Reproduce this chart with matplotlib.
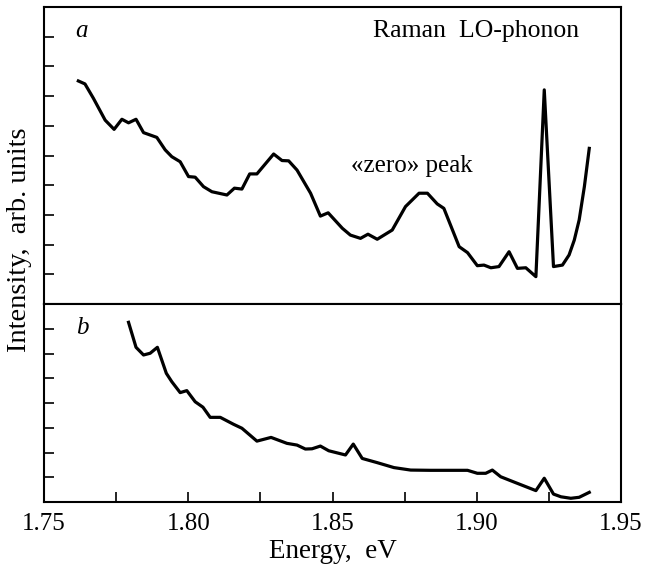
import matplotlib
matplotlib.use('Agg')
import matplotlib.pyplot as plt
from matplotlib.ticker import MultipleLocator, FormatStrFormatter

# panel a: Raman / zero peak spectrum
energy_a = [1.7619, 1.7642, 1.7671, 1.7712, 1.7743, 1.7770, 1.7793, 1.7819,
            1.7845, 1.7891, 1.7920, 1.7943, 1.7972, 1.8001, 1.8024, 1.8053,
            1.8082, 1.8134, 1.8160, 1.8186, 1.8213, 1.8238, 1.8296, 1.8325,
            1.8348, 1.8377, 1.8424, 1.8458, 1.8485, 1.8534, 1.8562, 1.8597,
            1.8623, 1.8655, 1.8707, 1.8753, 1.8800, 1.8829, 1.8863, 1.8886,
            1.8939, 1.8968, 1.9002, 1.9025, 1.9049, 1.9077, 1.9112, 1.9141,
            1.9170, 1.9205, 1.9234, 1.9266, 1.9297, 1.9320, 1.9338, 1.9355,
            1.9373, 1.9390]
intensity_a = [7.51, 7.41, 6.93, 6.19, 5.88, 6.22, 6.10, 6.22,
               5.77, 5.61, 5.19, 4.96, 4.79, 4.29, 4.27, 3.95,
               3.78, 3.67, 3.90, 3.87, 4.38, 4.38, 5.05, 4.83,
               4.82, 4.51, 3.73, 2.96, 3.07, 2.55, 2.32, 2.21,
               2.35, 2.18, 2.49, 3.28, 3.73, 3.73, 3.37, 3.22,
               1.93, 1.73, 1.29, 1.31, 1.22, 1.26, 1.76, 1.20,
               1.22, 0.92, 7.21, 1.26, 1.31, 1.65, 2.15, 2.83,
               3.95, 5.24]

# panel b
energy_b = [1.7793, 1.7819, 1.7845, 1.7868, 1.7893, 1.7924, 1.7943, 1.7972,
            1.7995, 1.8024, 1.8051, 1.8076, 1.8111, 1.8157, 1.8186, 1.8238,
            1.8287, 1.8342, 1.8377, 1.8406, 1.8429, 1.8458, 1.8487, 1.8545,
            1.8572, 1.8603, 1.8655, 1.8713, 1.8771, 1.8840, 1.8968, 1.9002,
            1.9031, 1.9054, 1.9083, 1.9135, 1.9205, 1.9234, 1.9266, 1.9292,
            1.9326, 1.9355, 1.9390]
intensity_b = [7.26, 6.25, 5.94, 6.01, 6.25, 5.20, 4.86, 4.42,
               4.50, 4.05, 3.83, 3.42, 3.42, 3.14, 2.98, 2.46,
               2.61, 2.37, 2.30, 2.14, 2.15, 2.26, 2.07, 1.90,
               2.34, 1.76, 1.59, 1.39, 1.29, 1.28, 1.28, 1.16,
               1.16, 1.29, 1.02, 0.78, 0.46, 0.96, 0.32, 0.21,
               0.15, 0.19, 0.39]

plt.rcParams['font.family'] = 'Liberation Serif'

fig = plt.figure(figsize=(6.45, 5.73), dpi=100)
W, H = 645.0, 573.0
left, right = 44, 621
ax_a = fig.add_axes([left / W, 1 - 304 / H, (right - left) / W, 297 / H])
ax_b = fig.add_axes([left / W, 1 - 502 / H, (right - left) / W, 198 / H])

for ax in (ax_a, ax_b):
    ax.set_xlim(1.75, 1.95)
    for s in ax.spines.values():
        s.set_linewidth(1.5)
    ax.tick_params(direction='in', length=7, width=1.2, which='both',
                   labelsize=18, right=False, top=False)

ax_a.plot(energy_a, intensity_a, color='black', lw=2.3)
ax_a.set_ylim(0, 10)
ax_a.set_yticks(range(1, 10))
ax_a.set_yticklabels([])
ax_a.tick_params(axis='x', bottom=False, labelbottom=False)
ax_a.text(0.055, 0.92, 'a', transform=ax_a.transAxes, fontsize=18,
          style='italic', va='center')
ax_a.text(0.927, 0.92, 'Raman  LO-phonon', transform=ax_a.transAxes,
          fontsize=18.5, ha='right', va='center')
ax_a.text(0.532, 0.465, '\u00abzero\u00bb peak', transform=ax_a.transAxes,
          fontsize=18, ha='left', va='center')

ax_b.plot(energy_b, intensity_b, color='black', lw=2.3)
ax_b.set_ylim(0, 8)
ax_b.set_yticks(range(1, 8))
ax_b.set_yticklabels([])
ax_b.xaxis.set_major_locator(MultipleLocator(0.05))
ax_b.xaxis.set_minor_locator(MultipleLocator(0.025))
ax_b.xaxis.set_major_formatter(FormatStrFormatter('%.2f'))
ax_b.tick_params(axis='x', pad=8)
ax_b.text(0.055, 0.88, 'b', transform=ax_b.transAxes, fontsize=18,
          style='italic', va='center')
ax_b.set_xlabel('Energy,  eV', fontsize=19.5, labelpad=3)

fig.text(20 / W, 1 - 240 / H, 'Intensity,  arb. units', rotation=90,
         fontsize=20.5, ha='center', va='center')

fig.savefig('out.png', dpi=100)
